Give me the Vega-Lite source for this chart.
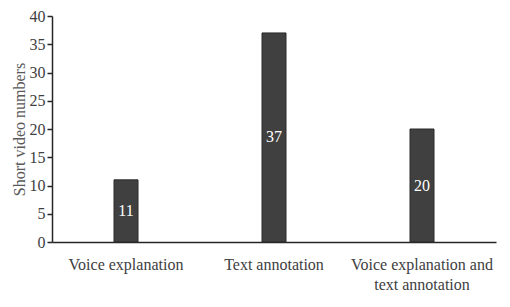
{
  "$schema": "https://vega.github.io/schema/vega-lite/v6.json",
  "width": 444,
  "height": 226,
  "autosize": "none",
  "padding": {"left": 52, "top": 16, "right": 14, "bottom": 65},
  "background": "white",
  "config": {
    "view": {"stroke": null},
    "font": "Liberation Serif",
    "axis": {"grid": false, "labelFont": "Liberation Serif", "titleFont": "Liberation Serif", "labelColor": "#404040", "titleColor": "#595959", "domainColor": "#262626", "tickColor": "#262626", "domainWidth": 1.5, "tickWidth": 1.5}
  },
  "data": {"values": [
    {"category": "Voice explanation", "value": 11},
    {"category": "Text annotation", "value": 37},
    {"category": "Voice explanation and text annotation", "value": 20}
  ]},
  "encoding": {
    "x": {"field": "category", "type": "nominal", "sort": null,
      "scale": {"paddingInner": 0, "paddingOuter": 0},
      "axis": {"title": null, "labelAngle": 0, "labelFontSize": 16, "ticks": false, "labelPadding": 14, "labelLineHeight": 20,
        "labelExpr": "datum.label == 'Voice explanation and text annotation' ? ['Voice explanation and', 'text annotation'] : datum.label"}}
  },
  "layer": [
    {
      "mark": {"type": "bar", "width": 24, "fill": "#404040", "stroke": "#2b2b2b", "strokeWidth": 1},
      "encoding": {
        "y": {"field": "value", "type": "quantitative",
          "scale": {"domain": [0, 40]},
          "axis": {"title": "Short video numbers", "titleFontSize": 16, "titleFontWeight": "normal", "labelFontSize": 16, "values": [0, 5, 10, 15, 20, 25, 30, 35, 40], "labelOverlap": false, "tickSize": 5, "labelPadding": 2, "titleX": -25}}
      }
    },
    {
      "mark": {"type": "text", "color": "white", "fontSize": 16, "baseline": "middle", "font": "Liberation Serif"},
      "encoding": {
        "y": {"field": "value", "type": "quantitative", "scale": {"domain": [0, 80]}, "axis": null},
        "text": {"field": "value", "type": "quantitative"}
      }
    }
  ],
  "resolve": {"scale": {"y": "independent"}}
}
